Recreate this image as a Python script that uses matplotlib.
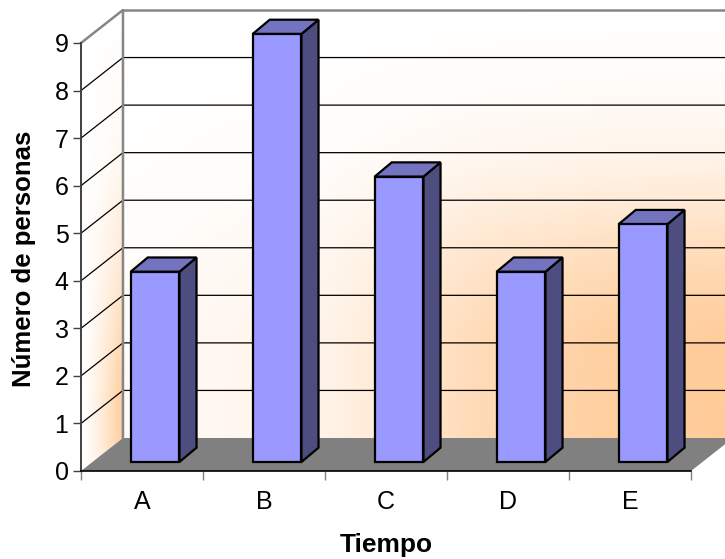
import numpy as np
import matplotlib
matplotlib.use('Agg')
import matplotlib.pyplot as plt
from matplotlib.colors import LinearSegmentedColormap
from matplotlib.patches import Polygon

categorias = ['A', 'B', 'C', 'D', 'E']
personas = [4, 9, 6, 4, 5]
marcas_y = [0, 1, 2, 3, 4, 5, 6, 7, 8, 9]

plt.rcParams['font.family'] = ['Liberation Sans', 'DejaVu Sans']

W, H = 725, 559
fig = plt.figure(figsize=(W / 100, H / 100), dpi=100)
# front plane of the 3d box, in pixels: x 81-691, y 471-43
ax = fig.add_axes([81 / W, 1 - 471 / H, 610 / W, 428 / H])
ax.set_xlim(0, 5)
ax.set_ylim(0, 9)

# oblique depth of the box and of the bars, in data units
prof_x, prof_y = 0.344, 0.694
barra_x, barra_y = 0.14, 0.30
ancho = 0.40
inset_y = 0.19

cmap = LinearSegmentedColormap.from_list('fondo', ['#FFFFFF', '#FFCC99'])


def gradiente(valores, extent, poly, z):
    im = ax.imshow(valores, extent=extent, origin='lower', aspect='auto', cmap=cmap,
                   vmin=0, vmax=1, zorder=z)
    parche = Polygon(poly, closed=True, transform=ax.transData, fill=False, edgecolor='none')
    ax.add_patch(parche)
    parche.set_clip_on(False)
    im.set_clip_box(fig.bbox)
    im.set_clip_path(parche)


# back wall: fades in from the top and from the left
xx, yy = np.meshgrid(np.linspace(0, 1, 300), np.linspace(0, 1, 300))
h = np.interp(xx, [0, 0.34, 0.59, 0.82, 1], [0.06, 0.24, 0.72, 0.95, 1])
v = np.interp(1 - yy, [0, 0.11, 0.22, 0.34, 0.45, 0.56, 0.67, 0.78, 1],
              [0, 0.04, 0.1, 0.22, 0.42, 0.66, 0.86, 0.98, 1])
ext = [prof_x, 5 + prof_x, prof_y, 9 + prof_y]
gradiente(h * v, ext, [(prof_x, prof_y), (5 + prof_x, prof_y), (5 + prof_x, 9 + prof_y), (prof_x, 9 + prof_y)], 1)

# side wall, orange toward the back at the bottom
v2 = np.interp(1 - yy, [0, 0.3, 0.55, 0.85, 1], [0, 0.12, 0.45, 1, 1])
ext2 = [0, prof_x, 0, 9 + prof_y]
gradiente(np.clip(xx ** 1.4, 0, 1) * v2, ext2, [(0, 0), (prof_x, prof_y), (prof_x, 9 + prof_y), (0, 9)], 1)

ax.set_xlim(0, 5)
ax.set_ylim(0, 9)

# floor
ax.add_patch(Polygon([(0, 0), (5, 0), (5 + prof_x, prof_y), (prof_x, prof_y)], closed=True,
                     facecolor='#808080', edgecolor='none', zorder=2, clip_on=False))

# gridlines on walls
for m in marcas_y[1:-1]:
    ax.plot([0, prof_x, 5 + prof_x], [m, m + prof_y, m + prof_y], color='black', lw=0.9,
            zorder=2, clip_on=False)

# wall border
ax.plot([0, prof_x, prof_x], [9, 9 + prof_y, prof_y], color='#868686', lw=1.8, zorder=3, clip_on=False)
ax.plot([prof_x, 5 + prof_x], [9 + prof_y, 9 + prof_y], color='#868686', lw=1.8, zorder=3, clip_on=False)

# bars
for i, val in enumerate(personas):
    x0 = i + 0.5 - ancho / 2 + 0.107
    x1 = x0 + ancho
    y0 = inset_y
    y1 = y0 + val
    estilo = dict(edgecolor='black', lw=1.6, closed=True, zorder=4 + i, joinstyle='miter', clip_on=False)
    ax.add_patch(Polygon([(x1, y0), (x1 + barra_x, y0 + barra_y), (x1 + barra_x, y1 + barra_y), (x1, y1)],
                         facecolor='#4D4D80', **estilo))
    ax.add_patch(Polygon([(x0, y1), (x1, y1), (x1 + barra_x, y1 + barra_y), (x0 + barra_x, y1 + barra_y)],
                         facecolor='#7373BF', **estilo))
    ax.add_patch(Polygon([(x0, y0), (x1, y0), (x1, y1), (x0, y1)], facecolor='#9999FF', **estilo))

# axes
for s in ['top', 'right']:
    ax.spines[s].set_visible(False)
ax.spines['left'].set_color('#404040')
ax.spines['left'].set_linewidth(1.4)
ax.spines['bottom'].set_color('black')
ax.spines['bottom'].set_linewidth(1.2)
for s in ax.spines.values():
    s.set_zorder(20)

ax.set_yticks(marcas_y)
ax.set_yticklabels([str(m) for m in marcas_y])
ax.set_xticks(range(6))
ax.set_xticklabels([''] * 6)
ax.set_xticks([i + 0.5 for i in range(5)], minor=True)
ax.set_xticklabels(categorias, minor=True)
ax.tick_params(axis='x', which='major', length=6.5, width=1.0, color='#808080')
ax.tick_params(axis='x', which='minor', length=0, pad=14, labelsize=18)
ax.tick_params(axis='y', length=6, width=1.0, color='#404040', pad=3, labelsize=18)

fig.text(386 / W, 1 - 545 / H, 'Tiempo', ha='center', va='center', fontsize=19, fontweight='bold')
fig.text(24 / W, 1 - 259 / H, 'Número de personas', ha='center', va='center', rotation=90,
         fontsize=18.5, fontweight='bold')

fig.savefig('out.png', dpi=100)
